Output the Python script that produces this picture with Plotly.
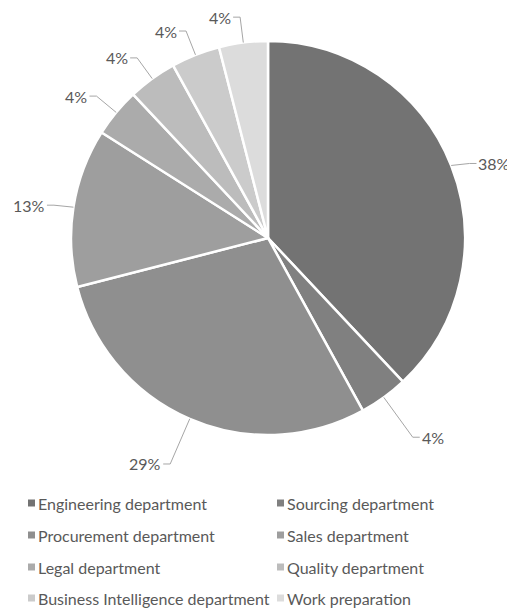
import math
import plotly.graph_objects as go

departments = ["Engineering department", "Sourcing department", "Procurement department",
               "Sales department", "Legal department", "Quality department",
               "Business Intelligence department", "Work preparation"]
shares = [38, 4, 29, 13, 4, 4, 4, 4]
colors = ["#737373", "#808080", "#8f8f8f", "#9e9e9e", "#ababab", "#bcbcbc", "#cbcbcb", "#dcdcdc"]

OFF = 8  # page body margin
W, H = 515 - OFF, 608 - OFF
CX, CY, R = 268 - OFF, 238 - OFF, 197
TEXT = "#595959"
FONT = "Lato"

def px(x):
    return x / W

def py(y):
    return 1 - y / H

fig = go.Figure(go.Pie(
    labels=departments, values=shares, sort=False, direction="clockwise", rotation=0,
    marker=dict(colors=colors, line=dict(color="white", width=2.5)),
    textinfo="none", hoverinfo="label+percent", showlegend=False,
    domain=dict(x=[px(CX - R), px(CX + R)], y=[py(CY + R), py(CY - R)]),
))

shapes, annotations = [], []
total = sum(shares)
cum = 0
for v in shares:
    mid = (cum + v / 2) / total * 2 * math.pi
    cum += v
    s, c = math.sin(mid), math.cos(mid)
    x0, y0 = CX + R * s, CY - R * c
    if abs(s) > 0.9:
        k = 1.1
    elif c > -0.5:
        k = 1.13
    else:
        k = 1.25
    x1, y1 = CX + R * k * s, CY - R * k * c
    if abs(s) > 0.9:  # nearly horizontal leader for side labels
        y1 = y0 - 2 * (1 if c > 0 else -1)
    side = 1 if s >= 0 else -1
    x2 = x1 + side * 7
    shapes.append(dict(type="path", xref="paper", yref="paper",
                       path=f"M {px(x0)},{py(y0)} L {px(x1)},{py(y1)} L {px(x2)},{py(y1)}",
                       line=dict(color="#a6a6a6", width=1)))
    annotations.append(dict(x=px(x2), y=py(y1), xref="paper", yref="paper",
                            text=f"{round(v / total * 100)}%", showarrow=False,
                            xanchor="left" if side > 0 else "right", yanchor="middle",
                            font=dict(family=FONT, size=16, color=TEXT)))

# legend (two columns, row-major)
col_x = [28 - OFF, 277 - OFF]
row_y = [503 - OFF, 535 - OFF, 567 - OFF, 598 - OFF]
for i, (name, col) in enumerate(zip(departments, colors)):
    r, cidx = divmod(i, 2)
    x, y = col_x[cidx], row_y[r]
    shapes.append(dict(type="rect", xref="paper", yref="paper",
                       x0=px(x), x1=px(x + 7), y0=py(y + 3.5), y1=py(y - 3.5),
                       fillcolor=col, line=dict(width=0)))
    annotations.append(dict(x=px(x + 8), y=py(y), xref="paper", yref="paper",
                            text=name, showarrow=False, xanchor="left", yanchor="middle",
                            font=dict(family=FONT, size=16, color=TEXT)))

fig.update_layout(width=W, height=H, margin=dict(l=0, r=0, t=0, b=0),
                  paper_bgcolor="white", plot_bgcolor="white",
                  shapes=shapes, annotations=annotations)
fig.write_html("out.html")
